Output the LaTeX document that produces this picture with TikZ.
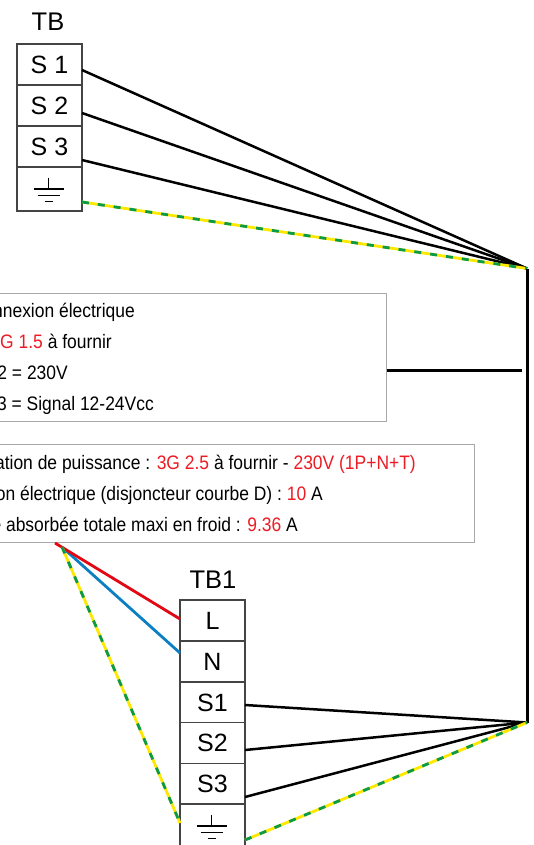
\documentclass[tikz,border=0pt]{standalone}
\usepackage{fontspec}
\setmainfont{Liberation Sans}
\newfontfamily\narrowfont[FakeStretch=0.895]{Liberation Sans}
\definecolor{wred}{HTML}{E30613}
\definecolor{wblue}{HTML}{0A7FC2}
\definecolor{wgreen}{HTML}{0A9A48}
\definecolor{wyellow}{HTML}{FFE800}
\definecolor{tred}{HTML}{ED1C24}
\definecolor{bgray}{HTML}{A8A8A8}
\definecolor{cgray}{HTML}{444444}
\newcommand{\rd}[1]{\textcolor{tred}{#1}}
\tikzset{
  cell/.style={draw=cgray,line width=1.1pt,fill=white,minimum width=65bp,inner sep=0pt,font=\fontsize{25bp}{28bp}\selectfont,text=black},
  cellA/.style={cell,minimum height=41bp},
  cellB/.style={cell,minimum height=44bp},
  title/.style={font=\fontsize{25.5bp}{28bp}\selectfont,inner sep=0pt},
  infobox/.style={draw=bgray,line width=1pt,fill=white,inner sep=0pt},
  infotext/.style={anchor=base east,inner sep=0pt,font=\narrowfont\fontsize{19.5bp}{22bp}\selectfont},
  wire/.style={black,line width=2.5bp},
  bus/.style={black,line width=3bp},
  wirered/.style={wred,line width=2.8bp},
  wireblue/.style={wblue,line width=2.8bp},
  earthbase/.style={wyellow,line width=2.8bp},
  earthdash/.style={wgreen,line width=2.8bp,dash pattern=on 7bp off 9bp},
  gnd/.style={black,line width=1.4bp},
}
\newcommand{\gndsym}[1]{%
  \draw[gnd] ([xshift=-1bp,yshift=11.5bp]#1.center) -- ([xshift=-1bp,yshift=0bp]#1.center);
  \draw[gnd] ([xshift=-16bp,yshift=0bp]#1.center) -- ([xshift=14bp,yshift=0bp]#1.center);
  \draw[gnd] ([xshift=-12bp,yshift=-6.5bp]#1.center) -- ([xshift=10bp,yshift=-6.5bp]#1.center);
  \draw[gnd,line width=1.8bp] ([xshift=-5bp,yshift=-12.5bp]#1.center) -- ([xshift=3bp,yshift=-12.5bp]#1.center);
}
\newcommand{\earthwire}[2]{%
  \draw[earthbase] (#1) -- (#2);
  \draw[earthdash] (#1) -- (#2);
}
\begin{document}
\begin{tikzpicture}[x=1bp,y=-1bp]
\useasboundingbox (0,0) rectangle (534,845);
\clip (0,0) rectangle (534,845);
% hubs
\coordinate (hubA) at (527,268.5);
\coordinate (hubB) at (527,722.5);
\coordinate (fan) at (55,543);
\coordinate (fanB) at (62,547);
% TB
\node[title] (tbt) at (48,21.5) {TB};
\node[cellA] (a1) at (49.5,64.5) {S 1};
\node[cellA] (a2) at (49.5,105.5) {S 2};
\node[cellA] (a3) at (49.5,146.5) {S 3};
\node[cellB] (a4) at (49.5,189) {};
\gndsym{a4}
\coordinate (a1w) at (82,70);
\coordinate (a2w) at (82,113);
\coordinate (a3w) at (82,160);
\coordinate (a4w) at (82,202);
\draw[wire] (a1w) -- (hubA);
\draw[wire] (a2w) -- (hubA);
\draw[wire] (a3w) -- (hubA);
\earthwire{a4w}{hubA}
\draw[bus] (hubA) -- (hubB);
% boxes
\node[infobox,minimum width=416bp,minimum height=128bp] (box1) at (178,357.5) {};
\node[infobox,minimum width=500bp,minimum height=98bp] (box2) at (224.5,493) {};
\coordinate (box1w) at (387,370.5);
\coordinate (busw) at (522,370.5);
\draw[bus] (box1w) -- (busw);
\node[infotext] (t1) at (135,317) {Interconnexion électrique};
\node[infotext] (t2) at (112,348) {\rd{3G 1.5} à fournir};
\node[infotext] (t3) at (68,379) {S1-S2 = 230V};
\node[infotext] (t4) at (154,410) {S3 = Signal 12-24Vcc};
\node[infotext] (t5) at (416,469) {Alimentation de puissance : \rd{3G 2.5} à fournir - \rd{230V (1P+N+T)}};
\node[infotext] (t6) at (323,500) {Protection électrique (disjoncteur courbe D) : \rd{10} A};
\node[infotext] (t7) at (298,531) {Intensité absorbée totale maxi en froid : \rd{9.36} A};
% TB1
\node[title] (tbot) at (213,579.5) {TB1};
\node[cellA] (b1) at (212.5,620.5) {L};
\node[cellA] (b2) at (212.5,661.5) {N};
\node[cellA] (b3) at (212.5,702.5) {S1};
\node[cellA] (b4) at (212.5,743) {S2};
\node[cellA] (b5) at (212.5,784) {S3};
\node[cellB] (b6) at (212.5,826) {};
\gndsym{b6}
\coordinate (b1w) at (180,619);
\coordinate (b2w) at (180,653);
\coordinate (b3w) at (245,705);
\coordinate (b4w) at (245,750);
\coordinate (b5w) at (245,797);
\coordinate (b6w) at (245,840);
\coordinate (b6l) at (180,823);
\draw[wire] (b3w) -- (hubB);
\draw[wire] (b4w) -- (hubB);
\draw[wire] (b5w) -- (hubB);
\earthwire{b6w}{hubB}
\draw[wireblue] (fanB) -- (b2w);
\draw[wirered] (fan) -- (b1w);
\earthwire{fanB}{b6l}
\end{tikzpicture}
\end{document}
